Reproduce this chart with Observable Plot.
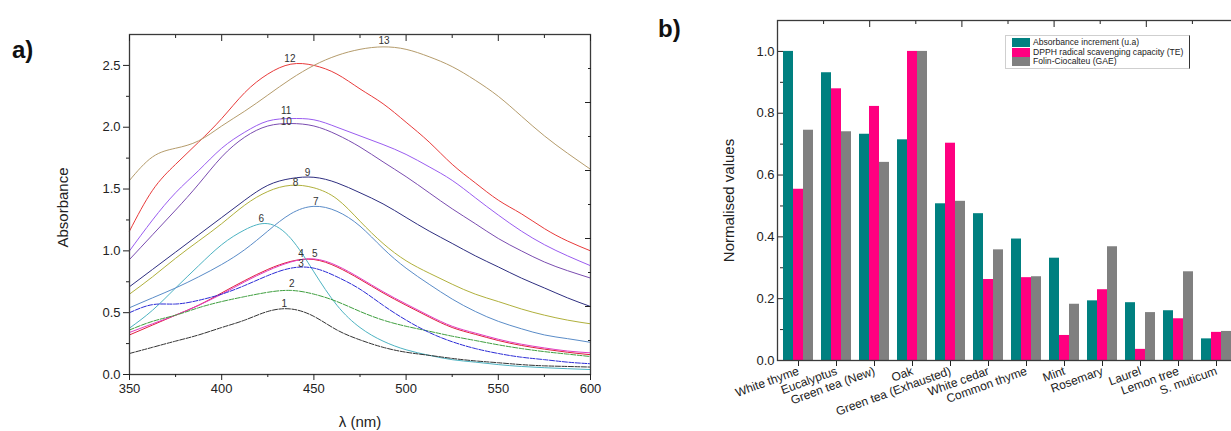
<!DOCTYPE html>
<html>
<head>
<meta charset="utf-8">
<script src="https://cdn.jsdelivr.net/npm/d3@7"></script>
<script src="https://cdn.jsdelivr.net/npm/@observablehq/plot@0.6"></script>
<style>
  html, body { margin: 0; padding: 0; background: #fff; overflow: hidden; }
  #root { position: relative; width: 1231px; height: 431px; overflow: hidden;
          font-family: "Liberation Sans", Arial, sans-serif; color: #222; }
  #root svg { position: absolute; top: 0; }
  .tag { position: absolute; font-weight: bold; font-size: 24px; line-height: 24px; color: #111; }
  .legend { position: absolute; box-sizing: border-box; border: 1px solid #cfcfcf; border-right: 1.5px solid #333;
            background: #fff; font-size: 8.6px; line-height: 9.5px; padding: 2px 0 0 6px; }
  .legend .row { display: flex; align-items: center; height: 9.5px; white-space: nowrap; }
  .legend .sw { width: 18px; height: 9px; margin-right: 3px; }
</style>
</head>
<body>
<div id="root"></div>
<script>
// ---------- panel a data ----------
const wavelengths = [350, 362.5, 375, 387.5, 400, 412.5, 425, 437.5, 450, 462.5, 475, 487.5, 500, 512.5, 525, 537.5, 550, 562.5, 575, 587.5, 600];
const curve1  = [0.17, 0.22, 0.27, 0.32, 0.38, 0.44, 0.51, 0.53, 0.47, 0.36, 0.28, 0.22, 0.18, 0.155, 0.13, 0.11, 0.095, 0.08, 0.07, 0.065, 0.06];
const curve2  = [0.36, 0.43, 0.48, 0.54, 0.59, 0.63, 0.665, 0.68, 0.65, 0.59, 0.51, 0.44, 0.39, 0.35, 0.31, 0.275, 0.24, 0.21, 0.185, 0.165, 0.145];
const curve3  = [0.50, 0.565, 0.57, 0.60, 0.65, 0.72, 0.80, 0.86, 0.86, 0.79, 0.69, 0.56, 0.44, 0.34, 0.265, 0.21, 0.17, 0.14, 0.12, 0.10, 0.087];
const curve4  = [0.32, 0.40, 0.48, 0.56, 0.66, 0.76, 0.85, 0.915, 0.93, 0.87, 0.77, 0.66, 0.56, 0.465, 0.38, 0.325, 0.275, 0.235, 0.205, 0.18, 0.16];
const curve5  = [0.34, 0.41, 0.48, 0.56, 0.65, 0.75, 0.84, 0.91, 0.935, 0.88, 0.78, 0.67, 0.57, 0.475, 0.39, 0.335, 0.285, 0.245, 0.215, 0.19, 0.175];
const curve6  = [0.375, 0.52, 0.70, 0.88, 1.05, 1.17, 1.22, 1.10, 0.83, 0.56, 0.38, 0.27, 0.20, 0.155, 0.12, 0.10, 0.08, 0.065, 0.055, 0.047, 0.04];
const curve7  = [0.54, 0.62, 0.70, 0.79, 0.89, 1.01, 1.16, 1.30, 1.36, 1.32, 1.20, 1.02, 0.86, 0.73, 0.61, 0.51, 0.43, 0.37, 0.32, 0.29, 0.26];
const curve8  = [0.65, 0.79, 0.94, 1.08, 1.22, 1.37, 1.48, 1.53, 1.51, 1.42, 1.24, 1.06, 0.92, 0.82, 0.73, 0.65, 0.59, 0.53, 0.48, 0.44, 0.41];
const curve9  = [0.71, 0.85, 0.99, 1.13, 1.27, 1.41, 1.53, 1.585, 1.595, 1.55, 1.47, 1.38, 1.27, 1.16, 1.06, 0.96, 0.87, 0.78, 0.70, 0.62, 0.55];
const curve10 = [0.93, 1.13, 1.33, 1.54, 1.76, 1.92, 2.01, 2.03, 2.01, 1.94, 1.84, 1.72, 1.60, 1.47, 1.34, 1.22, 1.10, 1.00, 0.91, 0.84, 0.78];
const curve11 = [1.00, 1.25, 1.47, 1.65, 1.83, 1.96, 2.05, 2.07, 2.06, 2.00, 1.93, 1.86, 1.78, 1.68, 1.57, 1.43, 1.29, 1.16, 1.05, 0.96, 0.88];
const curve12 = [1.16, 1.49, 1.70, 1.88, 2.07, 2.28, 2.43, 2.51, 2.50, 2.43, 2.31, 2.19, 2.04, 1.88, 1.70, 1.55, 1.41, 1.30, 1.18, 1.08, 1.00];
const curve13 = [1.57, 1.76, 1.83, 1.89, 2.01, 2.13, 2.26, 2.39, 2.50, 2.58, 2.63, 2.65, 2.63, 2.57, 2.49, 2.38, 2.25, 2.09, 1.93, 1.79, 1.66];
const curves = [curve1, curve2, curve3, curve4, curve5, curve6, curve7, curve8, curve9, curve10, curve11, curve12, curve13];
const curveIds = ["1", "2", "3", "4", "5", "6", "7", "8", "9", "10", "11", "12", "13"];
// where each curve number is written (wavelength, absorbance)
const labelWl  = [434, 438, 443, 443, 450.5, 421.5, 451, 440, 446.5, 435, 435, 437, 488];
const labelAbs = [0.57, 0.73, 0.895, 0.975, 0.975, 1.26, 1.40, 1.55, 1.635, 2.04, 2.13, 2.55, 2.70];
const xMajorA = [350, 400, 450, 500, 550, 600];
const xMinorA = [375, 425, 475, 525, 575];
const yMajorA = [0, 0.5, 1.0, 1.5, 2.0, 2.5];
const yMinorA = [0.25, 0.75, 1.25, 1.75, 2.25];

// ---------- panel b data ----------
const categories = ["White thyme", "Eucalyptus", "Green tea (New)", "Oak", "Green tea (Exhausted)", "White cedar",
  "Common thyme", "Mint", "Rosemary", "Laurel", "Lemon tree", "S. muticum"];
const seriesNames = ["Absorbance increment (u.a)", "DPPH radical scavenging capacity (TE)", "Folin-Ciocalteu (GAE)"];
const absorbanceIncrement = [1.000, 0.931, 0.732, 0.714, 0.507, 0.475, 0.393, 0.331, 0.193, 0.187, 0.161, 0.070];
const dpphCapacity        = [0.554, 0.879, 0.822, 1.000, 0.703, 0.262, 0.268, 0.081, 0.229, 0.036, 0.135, 0.091];
const folinCiocalteu      = [0.745, 0.740, 0.641, 1.000, 0.515, 0.358, 0.271, 0.182, 0.368, 0.155, 0.287, 0.094];
const yMajorB = [0, 0.2, 0.4, 0.6, 0.8, 1.0];
const yMinorB = [0.1, 0.3, 0.5, 0.7, 0.9];

// ---------- styles ----------
const curveColors = ["#333333", "#3f9f3f", "#2b2bd6", "#e0203c", "#e23cc0", "#4db3c2", "#5a8cc8",
  "#b0b03c", "#2e2e80", "#7a4cb0", "#9a5cf0", "#e83a3a", "#b59c6c"];
const dashedIds = ["1", "2", "3"];
const barColors = ["#008080", "#ff0080", "#808080"];
const FONT = "'Liberation Sans', Arial, sans-serif";
const blank = () => "";

const root = document.getElementById("root");

// ---------- panel a ----------
const curveRows = curves.flatMap((vals, k) => vals.map((v, i) => ({id: curveIds[k], wl: wavelengths[i], abs: v})));
const labelRows = curveIds.map((id, k) => ({id, wl: labelWl[k], abs: labelAbs[k]}));

const plotA = Plot.plot({
  width: 620, height: 431,
  marginLeft: 129, marginRight: 30, marginTop: 34, marginBottom: 57,
  style: {fontFamily: FONT, fontSize: "13px", color: "#222", background: "transparent", overflow: "visible"},
  x: {domain: [350, 600]},
  y: {domain: [0, 2.75]},
  color: {domain: curveIds, range: curveColors},
  marks: [
    Plot.line(curveRows.filter(d => !dashedIds.includes(d.id)), {x: "wl", y: "abs", z: "id", stroke: "id", strokeWidth: 1, curve: "natural"}),
    Plot.line(curveRows.filter(d => dashedIds.includes(d.id)), {x: "wl", y: "abs", z: "id", stroke: "id", strokeWidth: 1, strokeDasharray: "5,1.5", curve: "natural"}),
    Plot.text(labelRows, {x: "wl", y: "abs", text: "id", fontSize: 10, fill: "#333"}),
    Plot.frame({stroke: "#3a3a3a", strokeWidth: 1.3}),
    Plot.axisX({ticks: xMajorA, tickSize: 6, tickPadding: 3, tickFormat: d => String(d), label: null}),
    Plot.axisX({ticks: xMinorA, tickSize: 3, tickFormat: blank, label: null}),
    Plot.axisX({anchor: "top", ticks: xMajorA, tickSize: -6, tickFormat: blank, label: null}),
    Plot.axisX({anchor: "top", ticks: xMinorA, tickSize: -3, tickFormat: blank, label: null}),
    Plot.axisY({ticks: yMajorA, tickSize: 6, tickPadding: 3, tickFormat: ".1f", label: null}),
    Plot.axisY({ticks: yMinorA, tickSize: 3, tickFormat: blank, label: null}),
    Plot.axisY({anchor: "right", ticks: d3.range(0.55, 2.7, 0.55), tickSize: -6, tickFormat: blank, label: null}),
    Plot.axisY({anchor: "right", ticks: d3.range(0.275, 2.7, 0.55), tickSize: -3, tickFormat: blank, label: null}),
    Plot.text(["Absorbance"], {text: d => d, frameAnchor: "left", textAnchor: "middle", lineAnchor: "middle", dx: -66, dy: 3, rotate: -90, fontSize: 15, fill: "#222"}),
    Plot.text(["λ (nm)"], {text: d => d, frameAnchor: "bottom", textAnchor: "middle", lineAnchor: "middle", dy: 48, fontSize: 15, fill: "#222"})
  ]
});
plotA.style.left = "0px";
root.appendChild(plotA);

// ---------- panel b ----------
const seriesValues = [absorbanceIncrement, dpphCapacity, folinCiocalteu];
const barRows = categories.flatMap((c, i) => seriesNames.map((s, j) => ({category: c, series: s, value: seriesValues[j][i]})));
const dimsB = {width: 640, height: 431, marginLeft: 157, marginRight: 22, marginTop: 20, marginBottom: 71};

const plotB = Plot.plot({
  ...dimsB,
  style: {fontFamily: FONT, fontSize: "13px", color: "#222", background: "transparent", overflow: "visible"},
  fx: {domain: categories, paddingInner: 0.2, paddingOuter: 0.12, label: null},
  x: {domain: seriesNames, padding: 0, axis: null},
  y: {domain: [0, 1.1]},
  color: {domain: seriesNames, range: barColors},
  marks: [
    Plot.barY(barRows, {fx: "category", x: "series", y: "value", fill: "series"}),
    Plot.axisFx({anchor: "bottom", tickRotate: -20, tickSize: 6, tickPadding: 4, fontSize: 12, label: null}),
    Plot.axisY({ticks: yMajorB, tickSize: 6, tickPadding: 3, tickFormat: ".1f", label: null}),
    Plot.axisY({ticks: yMinorB, tickSize: 3, tickFormat: blank, label: null})
  ]
});
plotB.style.left = "620px";
root.appendChild(plotB);

// frame, mirrored ticks and axis title of panel b
const overlayB = Plot.plot({
  ...dimsB,
  style: {fontFamily: FONT, fontSize: "13px", color: "#222", background: "transparent", overflow: "visible"},
  x: {domain: [0, 10]},
  y: {domain: [0, 10]},
  marks: [
    Plot.frame({stroke: "#3a3a3a", strokeWidth: 1.3}),
    Plot.axisX({anchor: "top", ticks: [2, 4, 6, 8], tickSize: -6, tickFormat: blank, label: null}),
    Plot.axisX({anchor: "top", ticks: [1, 3, 5, 7, 9], tickSize: -3, tickFormat: blank, label: null}),
    Plot.axisY({anchor: "right", ticks: [2, 4, 6, 8], tickSize: -8, tickFormat: blank, label: null}),
    Plot.axisY({anchor: "right", ticks: [1, 3, 5, 7, 9], tickSize: -4, tickFormat: blank, label: null}),
    Plot.text(["Normalised values"], {text: d => d, frameAnchor: "left", textAnchor: "middle", lineAnchor: "middle", dx: -48.5, dy: 10, rotate: -90, fontSize: 15, fill: "#222"})
  ]
});
overlayB.style.left = "620px";
overlayB.style.pointerEvents = "none";
root.appendChild(overlayB);

// legend of panel b
const legend = document.createElement("div");
legend.className = "legend";
Object.assign(legend.style, {left: "1005px", top: "35px", width: "185px", height: "34px"});
seriesNames.forEach((name, j) => {
  const row = document.createElement("div");
  row.className = "row";
  const sw = document.createElement("div");
  sw.className = "sw";
  sw.style.background = barColors[j];
  const t = document.createElement("span");
  t.textContent = name;
  row.appendChild(sw);
  row.appendChild(t);
  legend.appendChild(row);
});
root.appendChild(legend);

// panel tags
[["a)", 12, 38], ["b)", 658, 17]].forEach(([txt, x, y]) => {
  const d = document.createElement("div");
  d.className = "tag";
  d.textContent = txt;
  d.style.left = x + "px";
  d.style.top = y + "px";
  root.appendChild(d);
});
</script>
</body>
</html>
